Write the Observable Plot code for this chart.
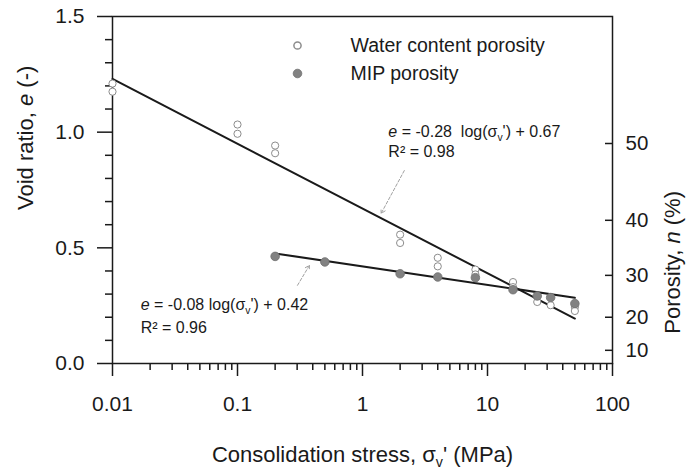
<!DOCTYPE html>
<html>
<head>
<meta charset="utf-8">
<script src="https://cdn.jsdelivr.net/npm/d3@7"></script>
<script src="https://cdn.jsdelivr.net/npm/@observablehq/plot@0.6"></script>
<style>
  body { margin: 0; background: #fff; }
  #chart svg { display: block; }
</style>
</head>
<body>
<div id="chart"></div>
<script>
// ---- Data ----
const waterStress = [0.01, 0.01, 0.1, 0.1, 0.2, 0.2, 2, 2, 4, 4, 8, 8, 16, 16, 25, 32, 50, 50];
const waterVoid   = [1.21, 1.175, 1.033, 0.993, 0.942, 0.909, 0.557, 0.521, 0.457, 0.420, 0.406, 0.385, 0.352, 0.330, 0.266, 0.252, 0.244, 0.227];
const mipStress = [0.2, 0.5, 2, 4, 8, 16, 25, 32, 50];
const mipVoid   = [0.463, 0.439, 0.388, 0.374, 0.371, 0.319, 0.292, 0.285, 0.259];

// regression lines shown in the chart: e = slope * log10(stress) + intercept
const fitSlope     = [-0.28, -0.08];
const fitIntercept = [0.67, 0.42];
const fitFrom      = [0.01, 0.2];
const fitTo        = [50, 50];

const xMajorTicks  = [0.01, 0.1, 1, 10, 100];
const xTickLabels  = ["0.01", "0.1", "1", "10", "100"];
const yMajorTicks  = [0, 0.5, 1.0, 1.5];
const yTickLabels  = ["0.0", "0.5", "1.0", "1.5"];
const porosityLabels = ["10", "20", "30", "40", "50"];
const porosityTickE  = [0.057, 0.200, 0.381, 0.619, 0.951];

const legendLabels = ["Water content porosity", "MIP porosity"];
const eqLabels = ["*e* = -0.28  log(σ{v}') + 0.67", "*e* = -0.08 log(σ{v}') + 0.42"];
const r2Labels = ["R² = 0.98", "R² = 0.96"];
const xTitle = "Consolidation stress, σ{v}' (MPa)";
const yTitle = "Void ratio, *e* (-)";
const y2Title = "Porosity, *n* (%)";

// ---- Derived tables ----
const water = waterStress.map((s, i) => ({s, e: waterVoid[i]}));
const mip = mipStress.map((s, i) => ({s, e: mipVoid[i]}));
const fits = fitSlope.map((m, i) => [fitFrom[i], fitTo[i]].map(s => ({s, e: m * Math.log10(s) + fitIntercept[i], k: i})));
const xMinor = [];
for (let k = -2; k <= 1; k++) for (let m = 2; m <= 9; m++) xMinor.push(+(m * Math.pow(10, k)).toPrecision(3));
const yMinor = d3.range(1, 15).filter(i => i % 5 !== 0).map(i => i / 10);
const xLab = new Map(xMajorTicks.map((t, i) => [t, xTickLabels[i]]));
const yLab = new Map(yMajorTicks.map((t, i) => [t, yTickLabels[i]]));
const pLab = new Map(porosityTickE.map((t, i) => [t, porosityLabels[i]]));

const ink = "#1a1a1a";
const font = "'Liberation Sans', Arial, Helvetica, sans-serif";

const chart = Plot.plot({
  width: 686,
  height: 473,
  marginLeft: 112,
  marginRight: 74,
  marginTop: 16,
  marginBottom: 110,
  style: {fontFamily: font, fontSize: "20px", color: ink, background: "#fff"},
  x: {type: "log", domain: [0.01, 100]},
  y: {domain: [0, 1.5]},
  marks: [
    // axes
    Plot.axisX(xMinor, {tickSize: 7, tickFormat: () => "", label: null, strokeWidth: 1.5}),
    Plot.axisX(xMajorTicks, {tickSize: 13, tickPadding: 20, tickFormat: d => xLab.get(d), label: null, strokeWidth: 1.5, fontSize: 21}),
    Plot.axisY(yMinor, {tickSize: 7, tickFormat: () => "", label: null, strokeWidth: 1.5}),
    Plot.axisY(yMajorTicks, {tickSize: 15, tickPadding: 13, tickFormat: d => yLab.get(d), label: null, strokeWidth: 1.5, fontSize: 21}),
    Plot.axisY(porosityTickE, {anchor: "right", tickSize: 8, dx: -8, tickFormat: () => "", label: null, strokeWidth: 1.5}),
    Plot.axisY(porosityTickE, {anchor: "right", tickSize: 0, tickPadding: 13, tickFormat: d => pLab.get(d), label: null, fontSize: 20.5}),
    Plot.frame({strokeWidth: 1.5}),
    // regression lines
    ...fits.map(f => Plot.line(f, {x: "s", y: "e", stroke: ink, strokeWidth: 2})),
    // data
    Plot.dot(water, {x: "s", y: "e", r: 3.6, fill: "white", stroke: "#8c8c8c", strokeWidth: 1}),
    Plot.dot(mip, {x: "s", y: "e", r: 4.3, fill: "#828282", stroke: "#707070", strokeWidth: 0.8}),
    // legend
    Plot.dot([legendLabels[0]], {frameAnchor: "top-left", dx: 185, dy: 29, r: 3.6, fill: "white", stroke: "#8c8c8c"}),
    Plot.dot([legendLabels[1]], {frameAnchor: "top-left", dx: 185, dy: 57, r: 4.3, fill: "#828282", stroke: "#707070", strokeWidth: 0.8}),
    Plot.text([legendLabels[0]], {frameAnchor: "top-left", dx: 238, dy: 29, text: d => d, textAnchor: "start", lineAnchor: "middle", fontSize: 19.5, fill: ink}),
    Plot.text([legendLabels[1]], {frameAnchor: "top-left", dx: 238, dy: 57, text: d => d, textAnchor: "start", lineAnchor: "middle", fontSize: 19.5, fill: ink}),
    // equations
    Plot.text(eqLabels, {x: [1.61, 0.0168], y: [0.978, 0.230], text: d => d, textAnchor: "start", lineAnchor: "bottom", fontSize: 16, fill: ink}),
    Plot.text(r2Labels, {x: [1.61, 0.0168], y: [0.892, 0.131], text: d => d, textAnchor: "start", lineAnchor: "bottom", fontSize: 16, fill: ink}),
    // dashed pointer arrows
    Plot.arrow([0, 1], {
      x1: [2.16, 0.302], y1: [0.834, 0.338],
      x2: [1.41, 0.376], y2: [0.649, 0.424],
      stroke: "#a0a0a0", strokeWidth: 1, strokeDasharray: "3,2", headLength: 7, bend: 0
    }),
    // axis titles
    Plot.text([xTitle], {frameAnchor: "bottom", dy: 98, text: d => d, lineAnchor: "bottom", fontSize: 22, fill: ink}),
    Plot.text([yTitle], {frameAnchor: "left", dx: -87, dy: 20, rotate: -90, text: d => d, lineAnchor: "middle", fontSize: 22, fill: ink}),
    Plot.text([y2Title], {frameAnchor: "right", dx: 60, dy: 1, rotate: -90, text: d => d, lineAnchor: "middle", fontSize: 22, fill: ink})
  ]
});

document.getElementById("chart").append(chart);

// rich text: *x* italic, {x} subscript
d3.select(chart).selectAll("text").each(function () {
  const t = this.textContent;
  if (!/[*{]/.test(t)) return;
  const fs = parseFloat(getComputedStyle(this).fontSize) || 16;
  const parts = t.split(/(\*[^*]+\*|\{[^}]+\})/).filter(s => s.length);
  const sel = d3.select(this);
  sel.text(null);
  let shifted = 0;
  for (const p of parts) {
    const ts = sel.append("tspan");
    if (p.startsWith("*")) {
      ts.attr("font-style", "italic").text(p.slice(1, -1));
      if (shifted) { ts.attr("dy", -shifted); shifted = 0; }
    } else if (p.startsWith("{")) {
      const d = fs * 0.25;
      ts.attr("font-size", fs * 0.65).attr("dy", d).text(p.slice(1, -1));
      shifted = d;
    } else {
      ts.text(p);
      if (shifted) { ts.attr("dy", -shifted); shifted = 0; }
    }
  }
});
</script>
</body>
</html>
